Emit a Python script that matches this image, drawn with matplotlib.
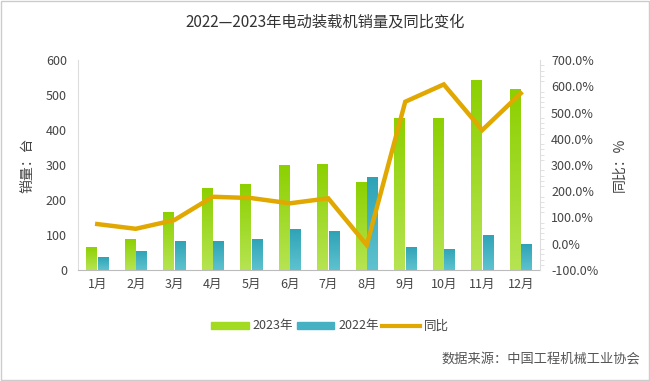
import numpy as np
import matplotlib
matplotlib.use("Agg")
import matplotlib.pyplot as plt
from matplotlib.ticker import MultipleLocator, FuncFormatter
from matplotlib.colors import LinearSegmentedColormap

plt.rcParams['font.family'] = ['Noto Sans CJK SC', 'DejaVu Sans']

months = ["1月", "2月", "3月", "4月", "5月", "6月", "7月", "8月", "9月", "10月", "11月", "12月"]
sales_2023 = [67, 89, 167, 233, 246, 301, 304, 250, 435, 435, 543, 516]
sales_2022 = [37, 55, 84, 82, 89, 118, 111, 265, 67, 60, 101, 74]
yoy_pct = [75, 57, 90, 179, 174, 154, 173, -5, 541, 607, 433, 573]

green_top = "#8cd000"
green_bottom = "#b6e452"
teal_top = "#2ea3b6"
teal_bottom = "#5ec2cf"
gold = "#e0a800"
text_col = "#444444"

fig = plt.figure(figsize=(6.5, 3.81), dpi=100)
ax = fig.add_axes([78 / 650, 1 - 270 / 381, 462 / 650, 210 / 381])
x = np.arange(len(months))
w = 0.27

bars23 = ax.bar(x - w / 2 - 0.01, sales_2023, w, color=green_top, zorder=2)
bars22 = ax.bar(x + w / 2 + 0.01, sales_2022, w, color=teal_top, zorder=2)


def gradient_fill(bars, c_bottom, c_top):
    grad = np.linspace(0, 1, 100).reshape(-1, 1)
    cmap = LinearSegmentedColormap.from_list("g", [c_bottom, c_top])
    for b in bars:
        bx, by = b.get_x(), b.get_y()
        bw, bh = b.get_width(), b.get_height()
        im = ax.imshow(grad, cmap=cmap, extent=[bx, bx + bw, by, by + bh],
                       origin="lower", aspect="auto", zorder=2)
        im.set_clip_path(b)
        b.set_facecolor("none")
        b.set_edgecolor("none")


gradient_fill(bars23, green_bottom, green_top)
gradient_fill(bars22, teal_bottom, teal_top)

ax.set_xlim(-0.5, 11.5)
ax.set_ylim(0, 600)
ax.yaxis.set_major_locator(MultipleLocator(100))
ax.set_xticks(x)
ax.set_xticklabels(months)
ax.tick_params(axis="both", labelsize=9, colors=text_col, length=0, pad=6)
ax.tick_params(axis="y", pad=8)
for s in ["top", "right"]:
    ax.spines[s].set_visible(False)
ax.spines["left"].set_color("#dddddd")
ax.spines["bottom"].set_color("#bbbbbb")
ax.set_ylabel("销量：台", fontsize=10, color=text_col, labelpad=8)

ax2 = ax.twinx()
ax2.plot(x, yoy_pct, color=gold, lw=3.2, zorder=3, solid_joinstyle="miter")
ax2.set_ylim(-100, 700)
ax2.yaxis.set_major_locator(MultipleLocator(100))
ax2.yaxis.set_minor_locator(MultipleLocator(20))
ax2.yaxis.set_major_formatter(FuncFormatter(lambda v, p: f"{v:.1f}%"))
ax2.tick_params(axis="y", which="major", labelsize=9, colors=text_col, length=0, pad=8)
ax2.tick_params(axis="y", which="minor", length=3, color="#dddddd")
for s in ["top", "left", "bottom"]:
    ax2.spines[s].set_visible(False)
ax2.spines["right"].set_color("#dddddd")
ax2.set_ylabel("同比：%", fontsize=10, color=text_col, rotation=90, labelpad=10)

fig.text(0.5, 1 - 22 / 381, "2022—2023年电动装载机销量及同比变化", ha="center", va="center",
         fontsize=11, color="#333333")

legend_handles = [matplotlib.patches.Patch(color="#a3da22"), matplotlib.patches.Patch(color="#45b1c2"),
                  matplotlib.lines.Line2D([], [], color=gold, lw=3)]
fig.legend(legend_handles, ["2023年", "2022年", "同比"], loc="center", ncol=3,
           bbox_to_anchor=(330 / 650, 1 - 326 / 381), frameon=False, fontsize=9,
           handlelength=3.0, handleheight=0.5, columnspacing=0.3, handletextpad=0.3,
           labelcolor=text_col)

fig.text(640 / 650, 1 - 359 / 381, "数据来源：中国工程机械工业协会", ha="right", va="center",
         fontsize=9.5, color="#555555")

fig.patches.append(matplotlib.patches.Rectangle((0.002, 0.003), 0.996, 0.994, transform=fig.transFigure,
                                                fill=False, edgecolor="#cccccc", lw=1))

fig.savefig("out.png", dpi=100)
